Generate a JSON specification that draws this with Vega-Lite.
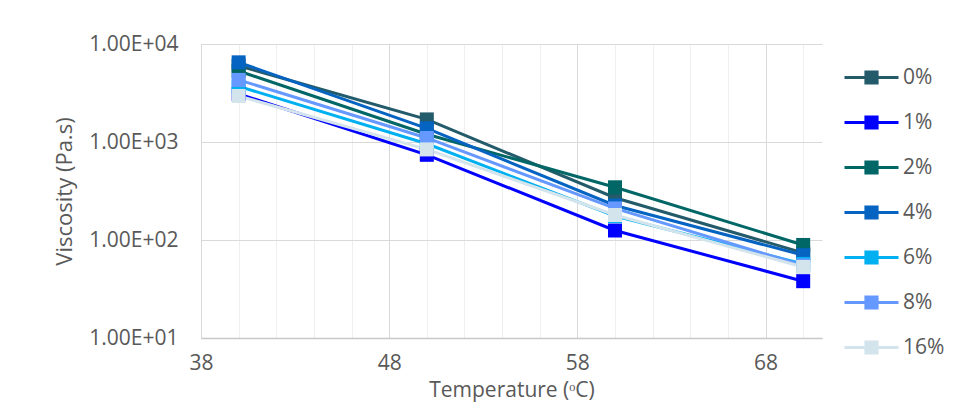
{
  "$schema": "https://vega.github.io/schema/vega-lite/v6.json",
  "width": 621,
  "height": 294,
  "autosize": {"type": "none"},
  "padding": {"left": 201, "top": 44, "right": 136, "bottom": 65},
  "background": "white",
  "config": {
    "view": {"stroke": null},
    "font": "Open Sans",
    "axis": {"labelColor": "#595959", "titleColor": "#595959", "labelFont": "Open Sans", "titleFont": "Open Sans", "titleFontWeight": "normal"},
    "legend": {"labelColor": "#595959", "labelFont": "Open Sans"}
  },
  "data": {
    "values": [
      {"series": "0%", "temp": 40, "visc": 6000},
      {"series": "0%", "temp": 50, "visc": 1700},
      {"series": "0%", "temp": 60, "visc": 270},
      {"series": "0%", "temp": 70, "visc": 74},
      {"series": "1%", "temp": 40, "visc": 3100},
      {"series": "1%", "temp": 50, "visc": 740},
      {"series": "1%", "temp": 60, "visc": 125},
      {"series": "1%", "temp": 70, "visc": 38},
      {"series": "2%", "temp": 40, "visc": 5300},
      {"series": "2%", "temp": 50, "visc": 1200},
      {"series": "2%", "temp": 60, "visc": 345},
      {"series": "2%", "temp": 70, "visc": 89},
      {"series": "4%", "temp": 40, "visc": 6500},
      {"series": "4%", "temp": 50, "visc": 1380},
      {"series": "4%", "temp": 60, "visc": 225},
      {"series": "4%", "temp": 70, "visc": 70},
      {"series": "6%", "temp": 40, "visc": 3700},
      {"series": "6%", "temp": 50, "visc": 960},
      {"series": "6%", "temp": 60, "visc": 175},
      {"series": "6%", "temp": 70, "visc": 57},
      {"series": "8%", "temp": 40, "visc": 4300},
      {"series": "8%", "temp": 50, "visc": 1100},
      {"series": "8%", "temp": 60, "visc": 210},
      {"series": "8%", "temp": 70, "visc": 55},
      {"series": "16%", "temp": 40, "visc": 2950},
      {"series": "16%", "temp": 50, "visc": 840},
      {"series": "16%", "temp": 60, "visc": 180},
      {"series": "16%", "temp": 70, "visc": 53}
    ]
  },
  "encoding": {
    "x": {
      "field": "temp",
      "type": "quantitative",
      "scale": {"domain": [38, 71], "nice": false, "zero": false},
      "axis": {
        "title": "Temperature (ᵒC)",
        "values": [38, 40, 42, 44, 46, 48, 50, 52, 54, 56, 58, 60, 62, 64, 66, 68, 70],
        "labelExpr": "(datum.value - 38) % 10 == 0 ? datum.value : ''",
        "gridColor": {"condition": {"test": "(datum.value - 38) % 10 == 0", "value": "#D9D9D9"}, "value": "#EFEFEF"},
        "gridWidth": 1,
        "ticks": false,
        "domainColor": "#C8C8C8",
        "domainWidth": 1.5,
        "labelFontSize": 21,
        "labelPadding": 14,
        "labelFlush": false,
        "labelOverlap": false,
        "titleFontSize": 21,
        "titleY": 52,
        "titleBaseline": "middle"
      }
    },
    "y": {
      "field": "visc",
      "type": "quantitative",
      "scale": {"type": "log", "domain": [10, 10000], "nice": false},
      "axis": {
        "title": "Viscosity (Pa.s)",
        "values": [10, 100, 1000, 10000],
        "labelExpr": "'1.00E+' + (round(log(datum.value)/LN10) < 10 ? '0' : '') + round(log(datum.value)/LN10)",
        "gridColor": "#D9D9D9",
        "ticks": false,
        "domainColor": "#D9D9D9",
        "labelFontSize": 21,
        "labelPadding": 23,
        "labelFlush": false,
        "titleFontSize": 22,
        "titlePadding": 12
      }
    },
    "color": {
      "field": "series",
      "type": "nominal",
      "sort": ["0%", "1%", "2%", "4%", "6%", "8%", "16%"],
      "scale": {
        "domain": ["0%", "1%", "2%", "4%", "6%", "8%", "16%"],
        "range": ["#245B6B", "#0000FF", "#006666", "#0563C1", "#00B0F0", "#6699FF", "#D3E4EC"]
      },
      "legend": {
        "title": null,
        "orient": "none",
        "legendX": 649,
        "legendY": 12,
        "symbolType": "M-1.35,0H-0.28M0.28,0H1.35M-0.28,-0.28H0.28V0.28H-0.28Z",
        "symbolSize": 1600,
        "symbolStrokeWidth": 3,
        "labelFontSize": 21,
        "labelOffset": 10,
        "rowPadding": 11
      }
    }
  },
  "layer": [
    {"mark": {"type": "line", "strokeWidth": 3}},
    {"mark": {"type": "point", "shape": "square", "filled": true, "size": 196, "opacity": 1}}
  ]
}
